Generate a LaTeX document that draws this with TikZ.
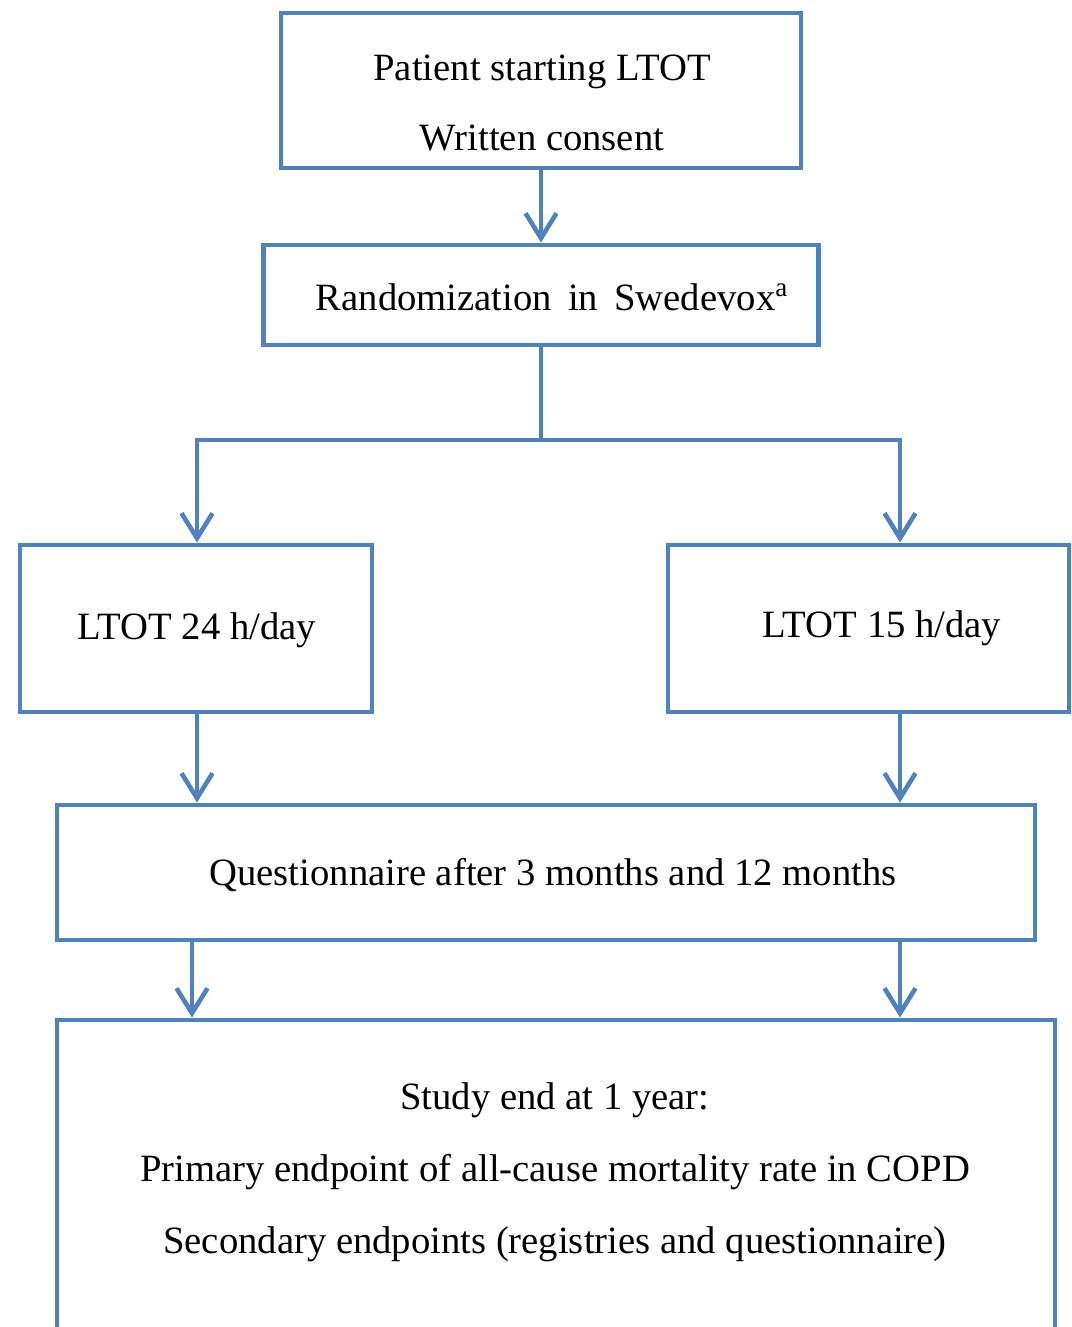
\documentclass[tikz,border=0pt]{standalone}
\usepackage{fontspec}
\setmainfont{Liberation Serif}
\usetikzlibrary{arrows.meta,calc}
\definecolor{boxblue}{HTML}{4F81BD}
\begin{document}
\begin{tikzpicture}[x=0.02cm,y=-0.02cm,
  flowbox/.style={draw=boxblue,line width=2.8pt,fill=white,inner sep=0pt,
    align=center,font=\fontsize{22}{40}\selectfont},
  txt/.style={align=center,font=\fontsize{22}{40}\selectfont},
  flowarrow/.style={draw=boxblue,line width=2.8pt,
    -{Straight Barb[length=0.5cm,width=0.62cm,line width=2.6pt]}},
  flowline/.style={draw=boxblue,line width=2.8pt,line cap=rect}]
\useasboundingbox (0,0) rectangle (1071,1327);
\clip (0,0) rectangle (1071,1327);
\fill[white] (0,0) rectangle (1071,1327);
% boxes
\node[flowbox,minimum width=520*0.02cm,minimum height=155*0.02cm] (b1) at (541,90.5) {};
\node[txt] (t1) at (542,103) {Patient starting LTOT\\Written consent};
\node[flowbox,minimum width=555*0.02cm,minimum height=100*0.02cm] (b2) at (541,295) {};
\node[txt] (t2) at (552,297) {Randomization\, in\, Swedevox\textsuperscript{a}};
\node[flowbox,minimum width=352*0.02cm,minimum height=167*0.02cm] (b3) at (196,628.5) {};
\node[txt] (t3) at (197,630) {LTOT 24 h/day};
\node[flowbox,minimum width=401*0.02cm,minimum height=167*0.02cm] (b4) at (868.5,628.5) {};
\node[txt] (t4) at (882,628) {LTOT 15 h/day};
\node[flowbox,minimum width=978*0.02cm,minimum height=135*0.02cm] (b5) at (546,872.5) {};
\node[txt] (t5) at (553,875) {Questionnaire after 3 months and 12 months};
\node[flowbox,minimum width=998*0.02cm,minimum height=312*0.02cm] (b6) at (556,1176) {};
\node[align=center,font=\fontsize{22}{41}\selectfont] (t6) at (555,1172) {Study end at 1 year:\\Primary endpoint of all-cause mortality rate in COPD\\Secondary endpoints (registries and questionnaire)};
% connectors
\draw[flowarrow] (b1.south) -- (b2.north);
\coordinate (jl) at (197,440);
\coordinate (jr) at (900,440);
\draw[flowline] (b2.south) -- (b2.south |- jl);
\draw[flowline] (jl) -- (jr);
\draw[flowarrow] (jl) -- (jl |- b3.north);
\draw[flowarrow] (jr) -- (jr |- b4.north);
\draw[flowarrow] (b3.south -| jl) -- (jl |- b5.north);
\draw[flowarrow] (b4.south -| jr) -- (jr |- b5.north);
\coordinate (kl) at (192,0);
\draw[flowarrow] (b5.south -| kl) -- (kl |- b6.north);
\draw[flowarrow] (b5.south -| jr) -- (jr |- b6.north);
\end{tikzpicture}
\end{document}
